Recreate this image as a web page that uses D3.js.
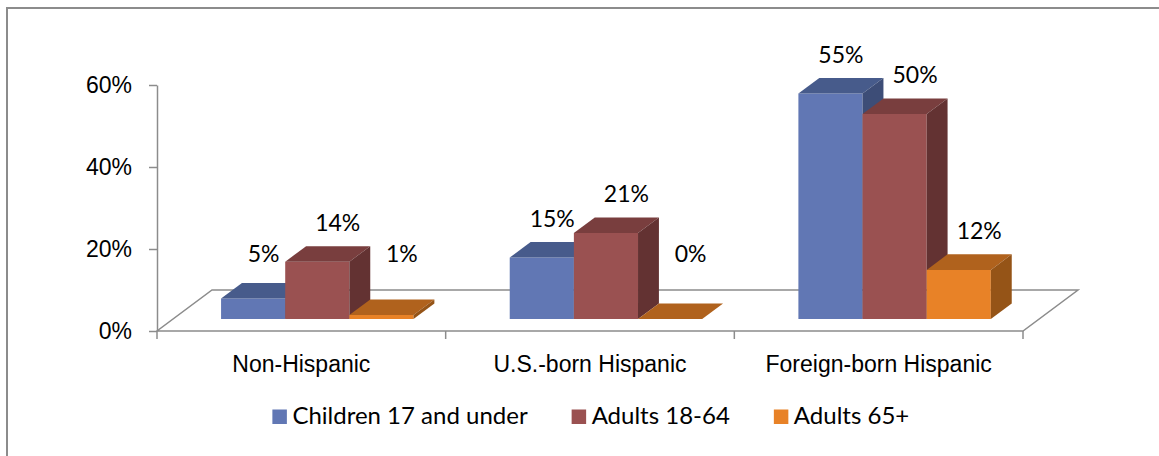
<!DOCTYPE html>
<html>
<head>
<meta charset="utf-8">
<script src="https://cdn.jsdelivr.net/npm/d3@7"></script>
<style>
  body { margin: 0; background: #fff; }
  svg { display: block; font-family: Lato, "Liberation Sans", sans-serif; }
  .axis path, .axis line { stroke: #8c8c8c; stroke-width: 1.5; }
  .axis text { fill: #000; font-size: 23px; }
</style>
</head>
<body>
<svg width="1159" height="456"></svg>
<script>
// chart values
const categories = ["Non-Hispanic", "U.S.-born Hispanic", "Foreign-born Hispanic"];
const seriesNames = ["Children 17 and under", "Adults 18-64", "Adults 65+"];
const children = [0.05, 0.15, 0.55];
const adults = [0.14, 0.21, 0.50];
const seniors = [0.01, 0.00, 0.12];
const yTicks = [0, 0.2, 0.4, 0.6];

const seriesValues = [children, adults, seniors];

// face colours: front, top, side
const faces = [
  { front: "#6177b4", top: "#475b8b", side: "#3d4d77" },
  { front: "#9a5151", top: "#793e3e", side: "#633232" },
  { front: "#e88227", top: "#b0621d", side: "#955417" }
];
const labelNudge = [0, 10, 10];

const svg = d3.select("svg");

// outer frame
svg.append("rect")
  .attr("x", 7).attr("y", 8)
  .attr("width", 1200).attr("height", 500)
  .attr("fill", "none")
  .attr("stroke", "#8c8c8c")
  .attr("stroke-width", 2);

const x0 = d3.scaleBand().domain(categories).range([157, 1023]).paddingInner(0).paddingOuter(0);
const x1 = d3.scaleBand().domain(seriesNames).range([0, x0.bandwidth()]).paddingInner(0).paddingOuter(0.75);
const y = d3.scaleLinear().domain([0, 0.6]).range([331, 85]);

// oblique depth: floor depth vector
const depthX = 55, depthY = 41;
const zFront = 0.29, zBack = 0.67;
const proj = (px, v, z) => [px + z * depthX, y(v) - z * depthY];

// floor outline
const floorPts = [proj(157, 0, 0), proj(1023, 0, 0), proj(1023, 0, 1), proj(157, 0, 1)];
svg.append("polygon")
  .attr("points", floorPts.map(p => p.join(",")).join(" "))
  .attr("fill", "none")
  .attr("stroke", "#8c8c8c")
  .attr("stroke-width", 1.5);

// y axis
svg.append("g")
  .attr("class", "axis")
  .attr("transform", "translate(157,0)")
  .call(d3.axisLeft(y).tickValues(yTicks).tickFormat(d3.format(".0%")).tickSize(8).tickSizeOuter(0).tickPadding(17));

// category boundary ticks
const bounds = categories.map(c => x0(c)).concat([x0(categories[categories.length - 1]) + x0.bandwidth()]);
svg.append("g")
  .selectAll("line")
  .data(bounds)
  .join("line")
  .attr("x1", d => d).attr("x2", d => d)
  .attr("y1", y(0)).attr("y2", y(0) + 8)
  .attr("stroke", "#8c8c8c")
  .attr("stroke-width", 1.5);

// category labels
const xAxis = svg.append("g")
  .attr("class", "axis")
  .attr("transform", "translate(0," + y(0) + ")")
  .call(d3.axisBottom(x0).tickSize(0).tickPadding(25));
xAxis.select(".domain").remove();

// bars, drawn left to right
const bars = svg.append("g");
categories.forEach((cat, ci) => {
  seriesNames.forEach((s, si) => {
    const v = seriesValues[si][ci];
    const xl = x0(cat) + x1(s), xr = xl + x1.bandwidth();
    const f = faces[si];
    const fbl = proj(xl, 0, zFront), fbr = proj(xr, 0, zFront);
    const ftl = proj(xl, v, zFront), ftr = proj(xr, v, zFront);
    const btl = proj(xl, v, zBack), btr = proj(xr, v, zBack);
    const bbr = proj(xr, 0, zBack);
    const poly = pts => pts.map(p => p.join(",")).join(" ");
    bars.append("polygon").attr("points", poly([fbl, fbr, ftr, ftl])).attr("fill", f.front);
    bars.append("polygon").attr("points", poly([ftl, ftr, btr, btl])).attr("fill", f.top);
    bars.append("polygon").attr("points", poly([fbr, bbr, btr, ftr])).attr("fill", f.side);
  });
});

// data labels
const labels = svg.append("g").attr("font-size", 23).attr("text-anchor", "middle").attr("fill", "#000");
categories.forEach((cat, ci) => {
  seriesNames.forEach((s, si) => {
    const v = seriesValues[si][ci];
    const xc = x0(cat) + x1(s) + x1.bandwidth() / 2;
    const p = proj(xc, Math.max(v, 0.065), (zFront + zBack) / 2);
    labels.append("text")
      .attr("x", p[0] + labelNudge[si])
      .attr("y", p[1] - 23)
      .text(d3.format(".0%")(v));
  });
});

// legend
const legend = svg.append("g").attr("font-size", 24);
const items = legend.selectAll("g").data(seriesNames).join("g");
items.append("rect").attr("width", 14.5).attr("height", 14.5).attr("y", -14)
  .attr("fill", (d, i) => faces[i].front);
items.append("text").attr("x", 20).attr("y", 0).text(d => d);
let lx = 0;
items.each(function() {
  const g = d3.select(this);
  g.attr("transform", "translate(" + lx + ",0)");
  lx += 20 + g.select("text").node().getComputedTextLength() + 44;
});
const legendW = lx - 44;
legend.attr("transform", "translate(" + (590.8 - legendW / 2) + ",423.5)");
</script>
</body>
</html>
